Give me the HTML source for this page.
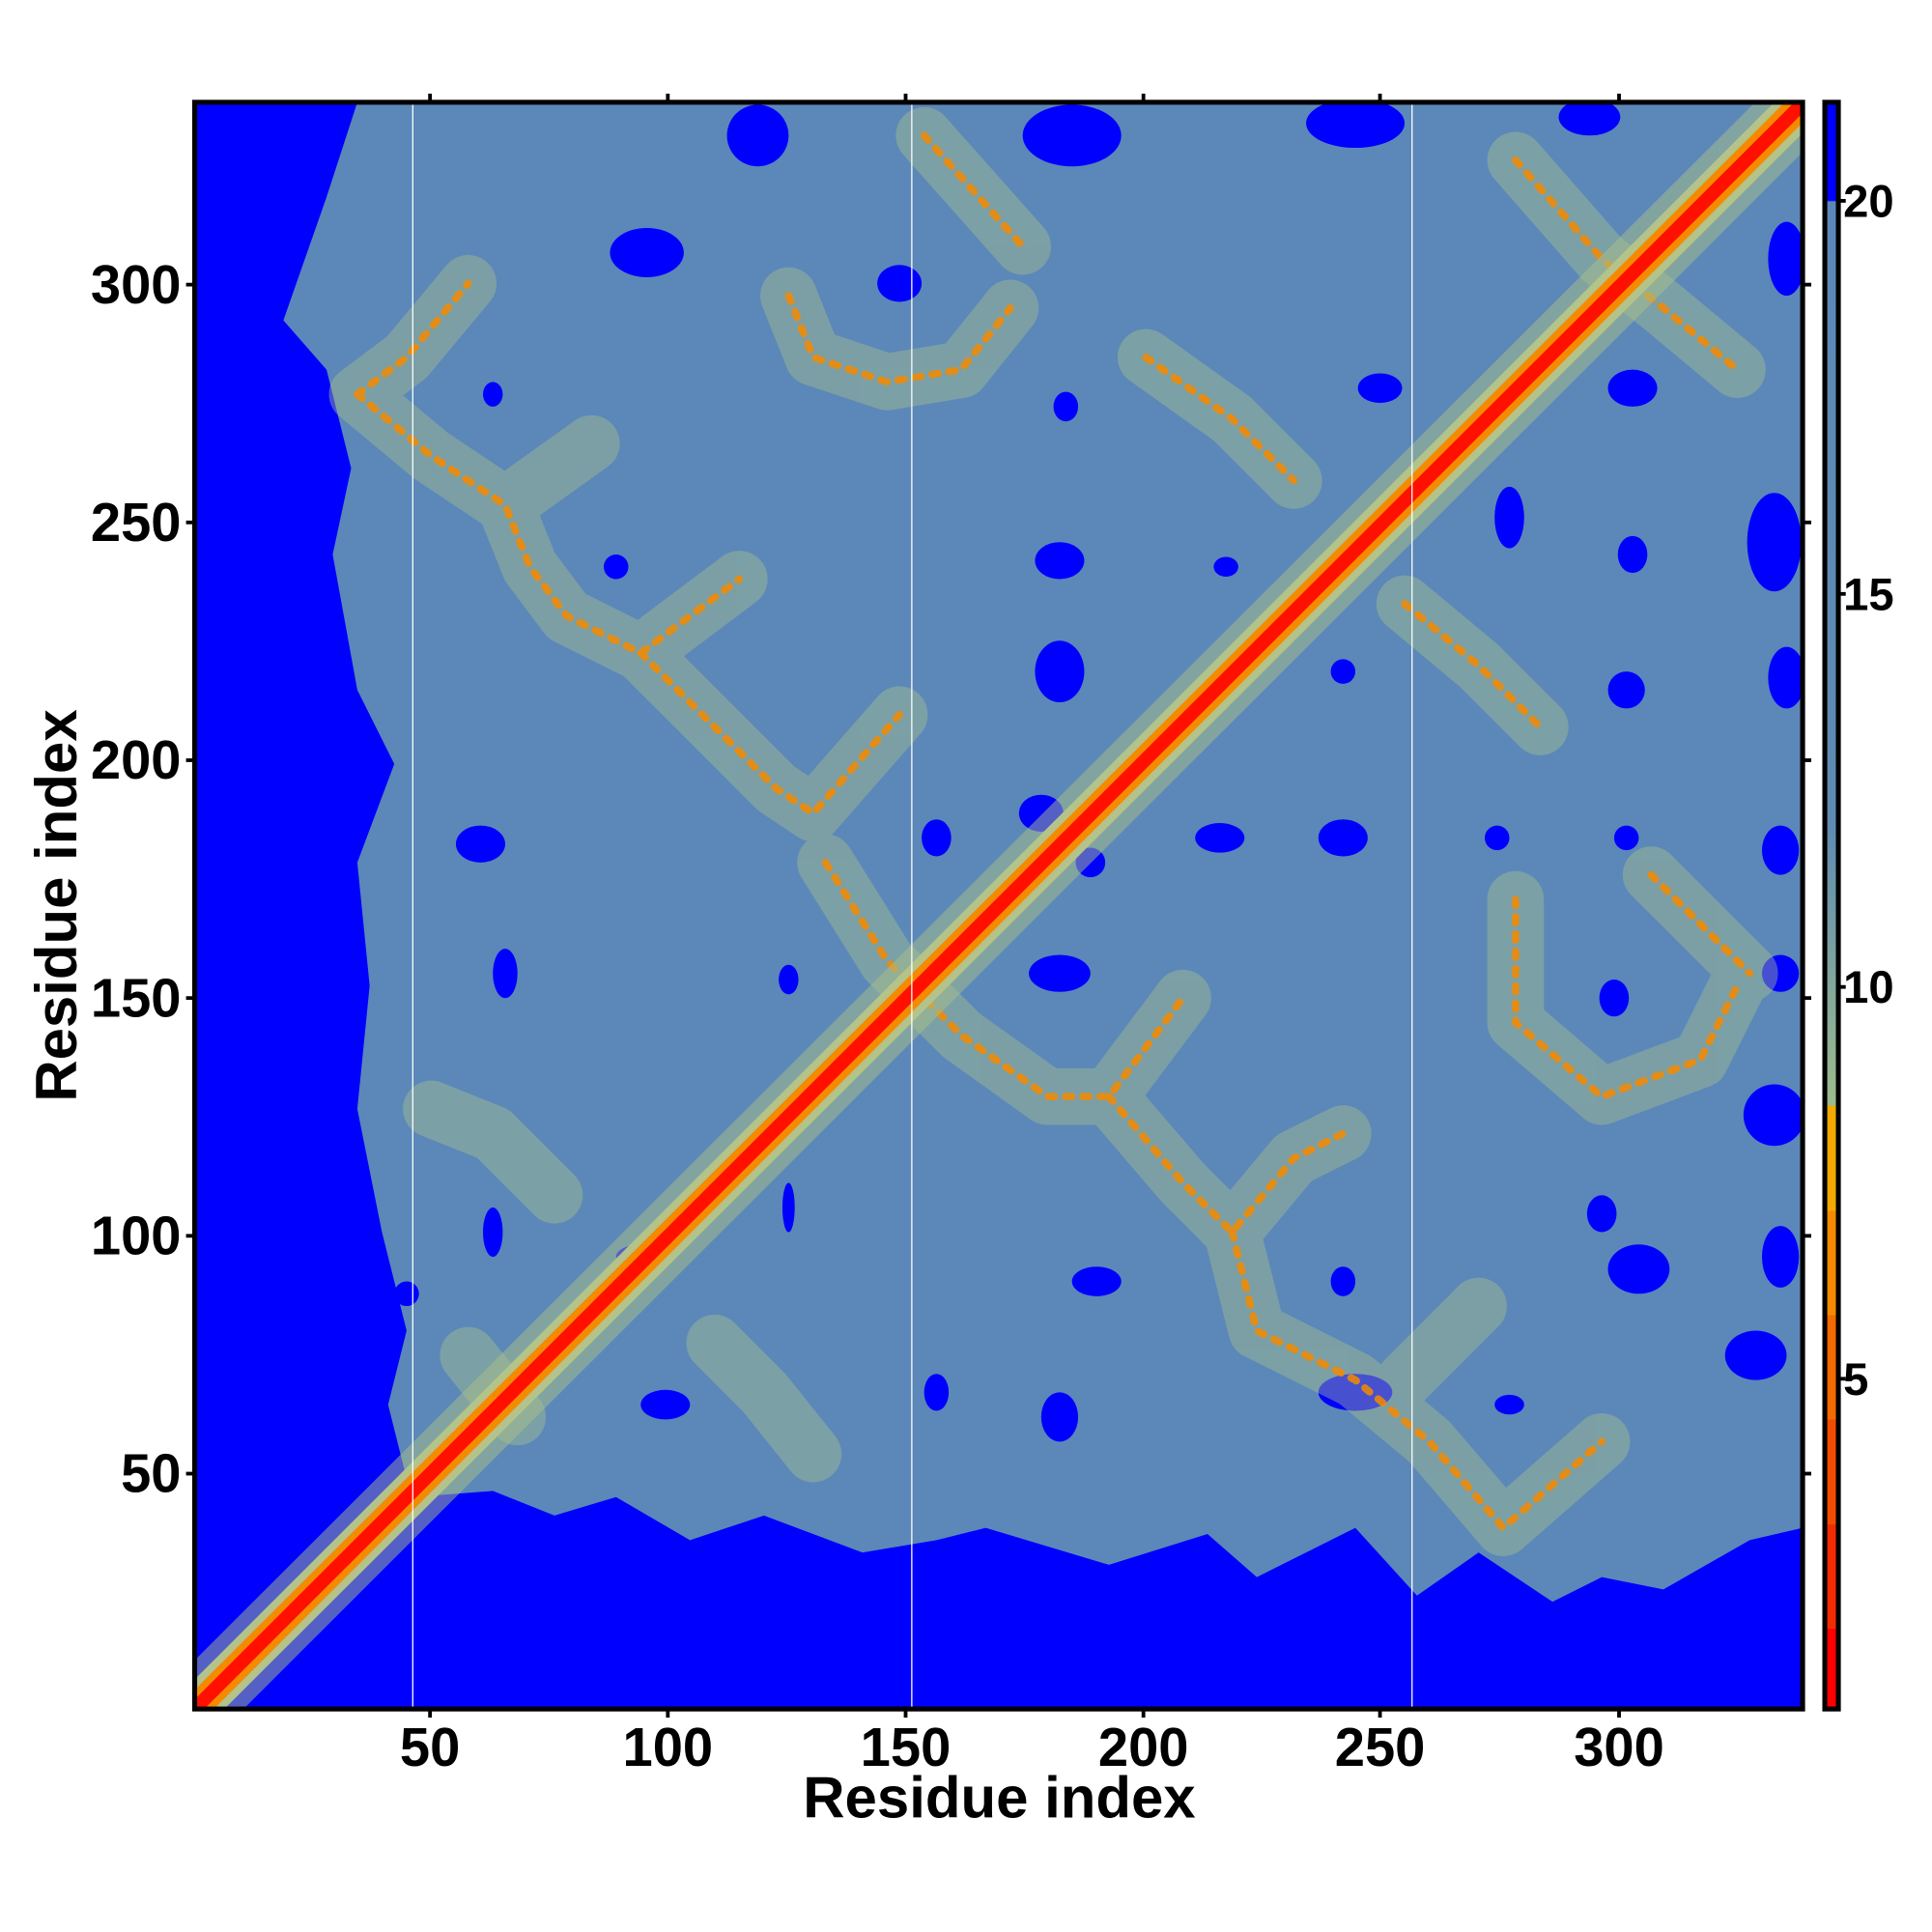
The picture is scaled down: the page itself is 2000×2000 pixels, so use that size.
<!DOCTYPE html>
<html><head><meta charset="utf-8"><style>html,body{margin:0;padding:0;background:#fff}svg{display:block}</style></head>
<body>
<svg width="2000" height="2000" viewBox="0 0 1568 1568" xmlns="http://www.w3.org/2000/svg" font-family="Liberation Sans, sans-serif" font-weight="bold">
<defs>
<clipPath id="pc"><rect x="158" y="83" width="1305" height="1304"/></clipPath>
<linearGradient id="cb" x1="0" y1="0" x2="0" y2="1">
<stop offset="0" stop-color="#0000ff"/><stop offset="0.061" stop-color="#0000ff"/>
<stop offset="0.062" stop-color="#5b88b8"/><stop offset="0.45" stop-color="#5f8bb2"/>
<stop offset="0.624" stop-color="#9dbb8c"/>
<stop offset="0.625" stop-color="#f2a900"/><stop offset="0.69" stop-color="#f2a900"/>
<stop offset="0.69" stop-color="#f58a00"/><stop offset="0.755" stop-color="#f58a00"/>
<stop offset="0.755" stop-color="#f26a00"/><stop offset="0.82" stop-color="#f26a00"/>
<stop offset="0.82" stop-color="#f24c00"/><stop offset="0.885" stop-color="#f24c00"/>
<stop offset="0.885" stop-color="#f22c00"/><stop offset="0.95" stop-color="#f22c00"/>
<stop offset="0.95" stop-color="#ff0000"/><stop offset="1" stop-color="#ff0000"/>
</linearGradient>
</defs>
<g clip-path="url(#pc)">
<rect x="158" y="83" width="1305" height="1304" fill="#0000ff"/>
<polygon fill="#5b88b8" points="290,83 1463,83 1463,1240 1420,1250 1350,1290 1300,1280 1260,1300 1200,1260 1150,1295 1100,1240 1020,1280 980,1245 900,1270 800,1240 760,1250 700,1260 620,1230 560,1250 500,1215 450,1230 400,1210 335,1215 300,1250 270,1290 230,1320 190,1350 165,1385 158,1385 158,1370 200,1330 250,1290 300,1240 330,1200 315,1140 330,1080 310,1000 290,900 300,800 290,700 320,620 290,560 270,450 285,380 265,300 230,260 265,160"/>
<g fill="#0000ff">
<ellipse cx="615" cy="110" rx="25" ry="25"/><ellipse cx="870" cy="110" rx="40" ry="25"/><ellipse cx="1100" cy="100" rx="40" ry="20"/><ellipse cx="1290" cy="95" rx="25" ry="15"/><ellipse cx="525" cy="205" rx="30" ry="20"/><ellipse cx="730" cy="230" rx="18" ry="15"/><ellipse cx="1120" cy="315" rx="18" ry="12"/><ellipse cx="1325" cy="315" rx="20" ry="15"/><ellipse cx="400" cy="320" rx="8" ry="10"/><ellipse cx="865" cy="330" rx="10" ry="12"/><ellipse cx="1225" cy="420" rx="12" ry="25"/><ellipse cx="860" cy="455" rx="20" ry="15"/><ellipse cx="500" cy="460" rx="10" ry="10"/><ellipse cx="995" cy="460" rx="10" ry="8"/><ellipse cx="1325" cy="450" rx="12" ry="15"/><ellipse cx="1440" cy="440" rx="22" ry="40"/><ellipse cx="860" cy="545" rx="20" ry="25"/><ellipse cx="1090" cy="545" rx="10" ry="10"/><ellipse cx="1320" cy="560" rx="15" ry="15"/><ellipse cx="1450" cy="550" rx="15" ry="25"/><ellipse cx="845" cy="660" rx="18" ry="15"/><ellipse cx="760" cy="680" rx="12" ry="15"/><ellipse cx="390" cy="685" rx="20" ry="15"/><ellipse cx="990" cy="680" rx="20" ry="12"/><ellipse cx="1090" cy="680" rx="20" ry="15"/><ellipse cx="1215" cy="680" rx="10" ry="10"/><ellipse cx="1320" cy="680" rx="10" ry="10"/><ellipse cx="1445" cy="690" rx="15" ry="20"/><ellipse cx="885" cy="700" rx="12" ry="12"/><ellipse cx="410" cy="790" rx="10" ry="20"/><ellipse cx="640" cy="795" rx="8" ry="12"/><ellipse cx="860" cy="790" rx="25" ry="15"/><ellipse cx="1310" cy="810" rx="12" ry="15"/><ellipse cx="400" cy="1000" rx="8" ry="20"/><ellipse cx="520" cy="1020" rx="20" ry="10"/><ellipse cx="640" cy="980" rx="5" ry="20"/><ellipse cx="890" cy="1040" rx="20" ry="12"/><ellipse cx="1090" cy="1040" rx="10" ry="12"/><ellipse cx="1330" cy="1030" rx="25" ry="20"/><ellipse cx="1445" cy="1020" rx="15" ry="25"/><ellipse cx="1440" cy="905" rx="25" ry="25"/><ellipse cx="540" cy="1140" rx="20" ry="12"/><ellipse cx="760" cy="1130" rx="10" ry="15"/><ellipse cx="860" cy="1150" rx="15" ry="20"/><ellipse cx="1100" cy="1130" rx="30" ry="15"/><ellipse cx="1225" cy="1140" rx="12" ry="8"/><ellipse cx="1425" cy="1100" rx="25" ry="20"/><ellipse cx="1300" cy="985" rx="12" ry="15"/><ellipse cx="1445" cy="790" rx="15" ry="15"/><ellipse cx="330" cy="1050" rx="10" ry="10"/><ellipse cx="1450" cy="210" rx="15" ry="30"/>
</g>
<g fill="none" stroke-linecap="round" stroke-linejoin="round">
<g stroke="#a9c08c" stroke-width="46" opacity="0.42">
<polyline points="290,320 330,290 380,230"/>
<polyline points="290,320 350,370 410,410 430,460 460,500 520,530 600,470"/>
<polyline points="410,410 480,360"/>
<polyline points="520,530 570,580 630,640 660,660 730,580"/>
<polyline points="640,240 660,290 720,310 780,300 820,250"/>
<polyline points="750,110 830,200"/>
<polyline points="930,290 1000,340 1050,390"/>
<polyline points="1140,490 1200,540 1250,590"/>
<polyline points="1230,730 1230,830 1300,890 1380,860 1410,800"/>
<polyline points="1340,710 1420,790"/>
<polyline points="670,700 720,780 780,840 850,890 900,890 960,810"/>
<polyline points="900,890 960,960 1000,1000 1050,940 1090,920"/>
<polyline points="1000,1000 1020,1080 1100,1120 1160,1170 1220,1240 1300,1170"/>
<polyline points="1140,1120 1200,1060"/>
<polyline points="350,900 400,920 450,970"/>
<polyline points="580,1090 620,1130 660,1180"/>
<polyline points="1230,130 1300,210 1350,250 1410,300"/>
<polyline points="380,1100 420,1150"/>
</g>
<g stroke="#f58a00" stroke-width="6" stroke-dasharray="5 9" opacity="0.85">
<polyline points="290,320 330,290 380,230"/>
<polyline points="290,320 350,370 410,410 430,460 460,500 520,530 600,470"/>
<polyline points="520,530 570,580 630,640 660,660 730,580"/>
<polyline points="640,240 660,290 720,310 780,300 820,250"/>
<polyline points="750,110 830,200"/>
<polyline points="1230,730 1230,830 1300,890 1380,860 1410,800"/>
<polyline points="1340,710 1420,790"/>
<polyline points="670,700 720,780 780,840 850,890 900,890 960,810"/>
<polyline points="900,890 960,960 1000,1000 1050,940 1090,920"/>
<polyline points="1000,1000 1020,1080 1100,1120 1160,1170 1220,1240 1300,1170"/>
<polyline points="1230,130 1300,210 1350,250 1410,300"/>
<polyline points="930,290 1000,340 1050,390"/>
<polyline points="1140,490 1200,540 1250,590"/>
</g>
</g>
<line x1="160" y1="1385" x2="1462" y2="85" stroke="#a9c08c" stroke-width="56" opacity="0.5"/>
<line x1="160" y1="1385" x2="1462" y2="85" stroke="#b3c38a" stroke-width="34"/>
<line x1="160" y1="1385" x2="1462" y2="85" stroke="#f58a00" stroke-width="22"/>
<line x1="160" y1="1385" x2="1462" y2="85" stroke="#ff1000" stroke-width="11"/>
<g stroke="#fff" stroke-width="1"><line x1="335" y1="83" x2="335" y2="1387"/><line x1="740" y1="83" x2="740" y2="1387"/><line x1="1146" y1="83" x2="1146" y2="1387"/></g>
</g>
<rect x="158" y="83" width="1305" height="1304" fill="none" stroke="#000" stroke-width="4"/>
<g stroke="#000" stroke-width="3">
<line x1="349" y1="83" x2="349" y2="76"/><line x1="542" y1="83" x2="542" y2="76"/><line x1="735" y1="83" x2="735" y2="76"/><line x1="928" y1="83" x2="928" y2="76"/><line x1="1120" y1="83" x2="1120" y2="76"/><line x1="1314" y1="83" x2="1314" y2="76"/>
<line x1="349" y1="1387" x2="349" y2="1394"/><line x1="542" y1="1387" x2="542" y2="1394"/><line x1="735" y1="1387" x2="735" y2="1394"/><line x1="928" y1="1387" x2="928" y2="1394"/><line x1="1120" y1="1387" x2="1120" y2="1394"/><line x1="1314" y1="1387" x2="1314" y2="1394"/>
<line x1="151" y1="231" x2="158" y2="231"/><line x1="151" y1="424" x2="158" y2="424"/><line x1="151" y1="617" x2="158" y2="617"/><line x1="151" y1="810" x2="158" y2="810"/><line x1="151" y1="1003" x2="158" y2="1003"/><line x1="151" y1="1196" x2="158" y2="1196"/>
<line x1="1463" y1="231" x2="1470" y2="231"/><line x1="1463" y1="424" x2="1470" y2="424"/><line x1="1463" y1="617" x2="1470" y2="617"/><line x1="1463" y1="810" x2="1470" y2="810"/><line x1="1463" y1="1003" x2="1470" y2="1003"/><line x1="1463" y1="1196" x2="1470" y2="1196"/>
<line x1="1492" y1="163" x2="1498" y2="163"/><line x1="1492" y1="482" x2="1498" y2="482"/><line x1="1492" y1="801" x2="1498" y2="801"/><line x1="1492" y1="1119" x2="1498" y2="1119"/>
</g>
<rect x="1481" y="83" width="11" height="1304" fill="url(#cb)" stroke="#000" stroke-width="4"/>
<g font-size="44" text-anchor="middle">
<text x="349" y="1433">50</text><text x="542" y="1433">100</text><text x="735" y="1433">150</text><text x="928" y="1433">200</text><text x="1120" y="1433">250</text><text x="1314" y="1433">300</text>
</g>
<g font-size="44" text-anchor="end">
<text x="147" y="246">300</text><text x="147" y="439">250</text><text x="147" y="632">200</text><text x="147" y="825">150</text><text x="147" y="1018">100</text><text x="147" y="1211">50</text>
</g>
<g font-size="37">
<text x="1496" y="176">20</text><text x="1496" y="495">15</text><text x="1496" y="814">10</text><text x="1496" y="1132">5</text>
</g>
<text x="811" y="1475" font-size="47" text-anchor="middle">Residue index</text>
<text x="0" y="0" font-size="47" text-anchor="middle" transform="translate(62,735) rotate(-90)">Residue index</text>
</svg>
</body></html>
